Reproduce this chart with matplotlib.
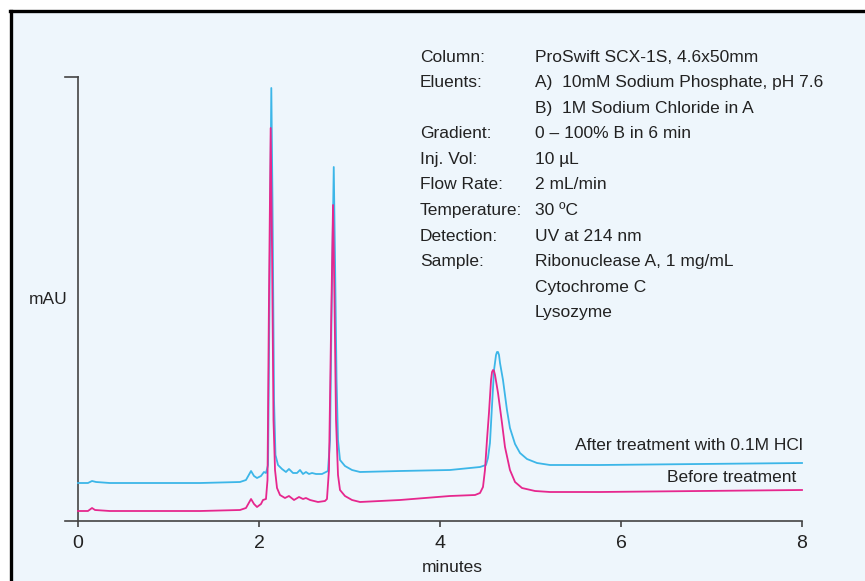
import matplotlib
matplotlib.use("Agg")
from matplotlib import pyplot as plt
from matplotlib.lines import Line2D
from matplotlib.patches import Rectangle

# chromatogram traces (time in min, signal in mAU, arbitrary offset)
t_after = [0, 0.11, 0.155, 0.2, 0.35, 1.35, 1.79, 1.856, 1.912, 1.945, 1.978, 2.022,
           2.055, 2.077, 2.1, 2.116, 2.136, 2.149, 2.166, 2.182, 2.21, 2.254, 2.298,
           2.331, 2.376, 2.42, 2.453, 2.486, 2.519, 2.552, 2.586, 2.63, 2.696, 2.74,
           2.762, 2.785, 2.801, 2.826, 2.84, 2.857, 2.873, 2.895, 2.95, 3.028, 3.116,
           3.558, 4.11, 4.442, 4.508, 4.53, 4.552, 4.575, 4.597, 4.619, 4.63, 4.641,
           4.652, 4.663, 4.696, 4.74, 4.773, 4.829, 4.884, 4.961, 5.072, 5.215, 5.768,
           6.873, 8.0]
s_after = [38, 38, 40, 39, 38, 38, 39, 41, 50, 45, 43, 45,
           49, 48, 56, 221, 433, 321, 121, 66, 56, 52, 49,
           52, 48, 48, 51, 47, 49, 47, 48, 47, 47, 49,
           50, 81, 201, 354, 261, 141, 81, 61, 55, 51, 49,
           50, 51, 54, 56, 63, 78, 116, 151, 166, 169, 169,
           166, 158, 141, 111, 93, 77, 68, 62, 58, 56, 56,
           57, 58]

t_before = [0, 0.11, 0.155, 0.188, 0.35, 1.35, 1.79, 1.856, 1.912, 1.945, 1.978, 2.022,
            2.044, 2.077, 2.094, 2.11, 2.129, 2.144, 2.16, 2.177, 2.199, 2.232, 2.287,
            2.331, 2.387, 2.442, 2.486, 2.519, 2.564, 2.652, 2.729, 2.751, 2.773, 2.796,
            2.818, 2.834, 2.851, 2.873, 2.895, 2.95, 3.028, 3.116, 3.558, 4.11, 4.387,
            4.442, 4.475, 4.497, 4.519, 4.541, 4.564, 4.575, 4.586, 4.597, 4.608, 4.641,
            4.685, 4.718, 4.773, 4.829, 4.906, 5.05, 5.215, 5.768, 6.873, 8.0]
s_before = [10, 10, 13, 11, 10, 10, 11, 13, 22, 17, 14, 17,
            21, 22, 41, 221, 393, 271, 101, 51, 33, 26, 23,
            25, 21, 24, 22, 23, 21, 19, 20, 22, 51, 191,
            316, 221, 101, 46, 31, 25, 21, 19, 21, 25, 26,
            28, 34, 51, 81, 108, 141, 149, 151, 150, 146, 128,
            98, 74, 51, 39, 33, 30, 29, 29, 30, 31]

x_ticks = [0, 2, 4, 6, 8]

cond_labels = ["Column:", "Eluents:", "", "Gradient:", "Inj. Vol:", "Flow Rate:",
               "Temperature:", "Detection:", "Sample:", "", ""]
cond_values = ["ProSwift SCX-1S, 4.6x50mm", "A)  10mM Sodium Phosphate, pH 7.6",
               "B)  1M Sodium Chloride in A", "0 \u2013 100% B in 6 min", "10 \u00b5L",
               "2 mL/min", "30 \u00baC", "UV at 214 nm", "Ribonuclease A, 1 mg/mL",
               "Cytochrome C", "Lysozyme"]

W, H = 865, 581
BG = "#eef6fc"
BLUE = "#3cb6e8"
PINK = "#e6278e"
TXT = "#222222"
FONT = ["Liberation Sans", "DejaVu Sans"]

fig = plt.figure(figsize=(W / 100, H / 100), dpi=100, facecolor="white")
fig.add_artist(Rectangle((11 / W, 0), 1, 1 - 11 / H, transform=fig.transFigure,
                         facecolor=BG, edgecolor="none", zorder=0))
fig.add_artist(Line2D([11 / W, 11 / W], [0, 1 - 10.5 / H], transform=fig.transFigure,
                      color="black", lw=2.4))
fig.add_artist(Line2D([10 / W, 1], [1 - 10.5 / H, 1 - 10.5 / H], transform=fig.transFigure,
                      color="black", lw=2.4))

ax = fig.add_axes([78 / W, (H - 521) / H, 724 / W, 444 / H])
ax.patch.set_visible(False)
ax.set_xlim(0, 8)
ax.set_ylim(0, 444)
for sp in ax.spines.values():
    sp.set_visible(False)

# axis lines with the little overhangs
ext = 13 / 724
ax.plot([-ext, 1], [0, 0], transform=ax.transAxes, color="#444444", lw=1.2, clip_on=False)
ax.plot([0, 0], [0, 1], transform=ax.transAxes, color="#444444", lw=1.2, clip_on=False)
ax.plot([-ext, 0], [1, 1], transform=ax.transAxes, color="#444444", lw=1.2, clip_on=False)

ax.set_xticks(x_ticks)
ax.set_xticklabels([str(v) for v in x_ticks], fontsize=14, color=TXT, family=FONT)
ax.tick_params(axis="x", length=4, width=1.2, color="#444444", direction="out", pad=6)
ax.set_yticks([])

ax.plot(t_after, s_after, color=BLUE, lw=1.3, clip_on=False)
ax.plot(t_before, s_before, color=PINK, lw=1.3, clip_on=False)

fig.text(803 / W, 1 - 445 / H, "After treatment with 0.1M HCl", ha="right", va="center",
         fontsize=12.5, color=TXT, family=FONT)
fig.text(796 / W, 1 - 477 / H, "Before treatment", ha="right", va="center",
         fontsize=12.5, color=TXT, family=FONT)

fig.text(48 / W, 1 - 300 / H, "mAU", ha="center", va="center", fontsize=12.5,
         color=TXT, family=FONT)
fig.text(452 / W, 1 - 567 / H, "minutes", ha="center", va="center", fontsize=12.5,
         color=TXT, family=FONT)

for i, (lab, val) in enumerate(zip(cond_labels, cond_values)):
    y = 1 - (57 + i * 25.6) / H
    if lab:
        fig.text(420 / W, y, lab, ha="left", va="center", fontsize=12.5, color=TXT, family=FONT)
    fig.text(535 / W, y, val, ha="left", va="center", fontsize=12.5, color=TXT, family=FONT)

fig.savefig("out.png", dpi=100, facecolor=fig.get_facecolor())
